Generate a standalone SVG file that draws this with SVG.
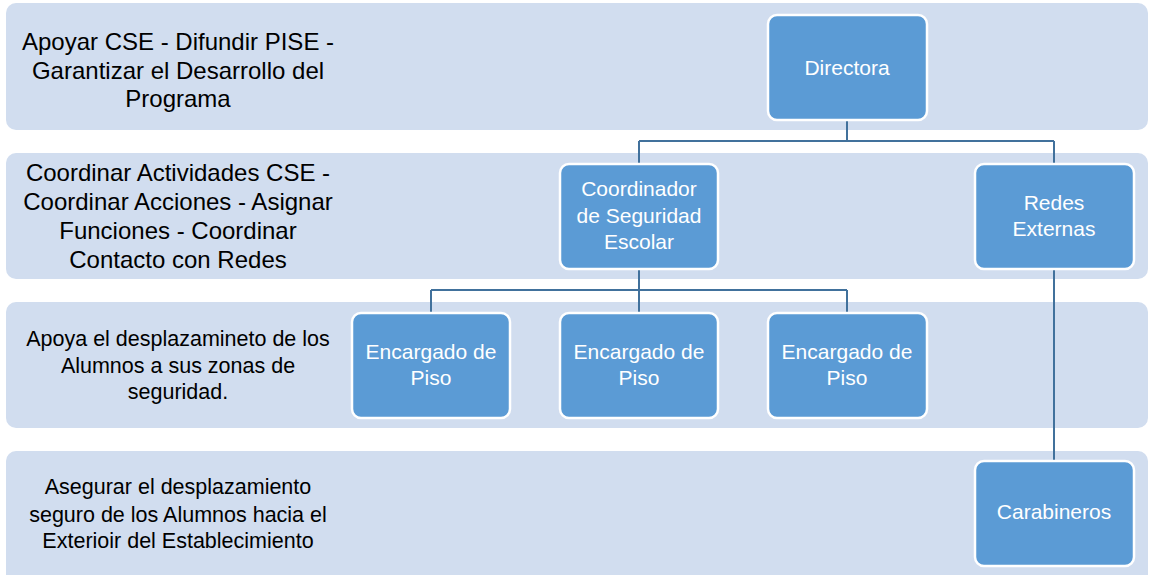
<svg xmlns="http://www.w3.org/2000/svg" width="1151" height="575" viewBox="0 0 1151 575">
<style>
.band{fill:#D1DDEF}
.node{fill:#5B9BD5;stroke:#FFFFFF;stroke-width:2.5}
.lbl{font-family:"Liberation Sans",Arial,sans-serif;fill:#000000;text-anchor:middle}
.l1{font-size:24px}
.l3{font-size:21.5px}
.nt{font-family:"Liberation Sans",Arial,sans-serif;font-size:21px;fill:#FFFFFF;text-anchor:middle}
.conn{fill:none;stroke:#41719C;stroke-width:2}
</style>
<rect width="1151" height="575" fill="#FFFFFF"/>
<g id="bands">
<rect class="band" x="6" y="3" width="1142" height="127" rx="10"/>
<rect class="band" x="6" y="153" width="1142" height="126" rx="10"/>
<rect class="band" x="6" y="302" width="1142" height="126" rx="10"/>
<rect class="band" x="6" y="451" width="1142" height="140" rx="10"/>
</g>
<g id="band-labels">
<text class="lbl l1" x="178" y="50">Apoyar CSE - Difundir PISE -</text>
<text class="lbl l1" x="178" y="79">Garantizar el Desarrollo del</text>
<text class="lbl l1" x="178" y="107">Programa</text>
<text class="lbl l1" x="178" y="181">Coordinar Actividades CSE -</text>
<text class="lbl l1" x="178" y="210">Coordinar Acciones - Asignar</text>
<text class="lbl l1" x="178" y="239">Funciones - Coordinar</text>
<text class="lbl l1" x="178" y="268">Contacto con Redes</text>
<text class="lbl l3" x="178" y="346">Apoya el desplazamineto de los</text>
<text class="lbl l3" x="178" y="373">Alumnos a sus zonas de</text>
<text class="lbl l3" x="178" y="399">seguridad.</text>
<text class="lbl l3" x="178" y="494">Asegurar el desplazamiento</text>
<text class="lbl l3" x="178" y="522">seguro de los Alumnos hacia el</text>
<text class="lbl l3" x="178" y="548">Exterioir del Establecimiento</text>
</g>
<g id="connectors">
<path class="conn" d="M847 120 V141 M639 141 H1054 M639 141 V164 M1054 141 V164"/>
<path class="conn" d="M639 269 V290 M431 290 H847 M431 290 V313 M639 290 V313 M847 290 V313"/>
<path class="conn" d="M1054 269 V461"/>
</g>
<g id="directora">
<rect class="node" x="768" y="15" width="159" height="105" rx="9"/>
<text class="nt" x="847" y="75">Directora</text>
</g>
<g id="coordinador">
<rect class="node" x="560" y="164" width="158" height="105" rx="9"/>
<text class="nt" x="639" y="196">Coordinador</text>
<text class="nt" x="639" y="223">de Seguridad</text>
<text class="nt" x="639" y="249">Escolar</text>
</g>
<g id="redes">
<rect class="node" x="975" y="164" width="159" height="105" rx="9"/>
<text class="nt" x="1054" y="210">Redes</text>
<text class="nt" x="1054" y="236">Externas</text>
</g>
<g id="encargado1">
<rect class="node" x="352" y="313" width="158" height="105" rx="9"/>
<text class="nt" x="431" y="359">Encargado de</text>
<text class="nt" x="431" y="385">Piso</text>
</g>
<g id="encargado2">
<rect class="node" x="560" y="313" width="158" height="105" rx="9"/>
<text class="nt" x="639" y="359">Encargado de</text>
<text class="nt" x="639" y="385">Piso</text>
</g>
<g id="encargado3">
<rect class="node" x="768" y="313" width="159" height="105" rx="9"/>
<text class="nt" x="847" y="359">Encargado de</text>
<text class="nt" x="847" y="385">Piso</text>
</g>
<g id="carabineros">
<rect class="node" x="975" y="461" width="159" height="105" rx="9"/>
<text class="nt" x="1054" y="519">Carabineros</text>
</g>
</svg>
